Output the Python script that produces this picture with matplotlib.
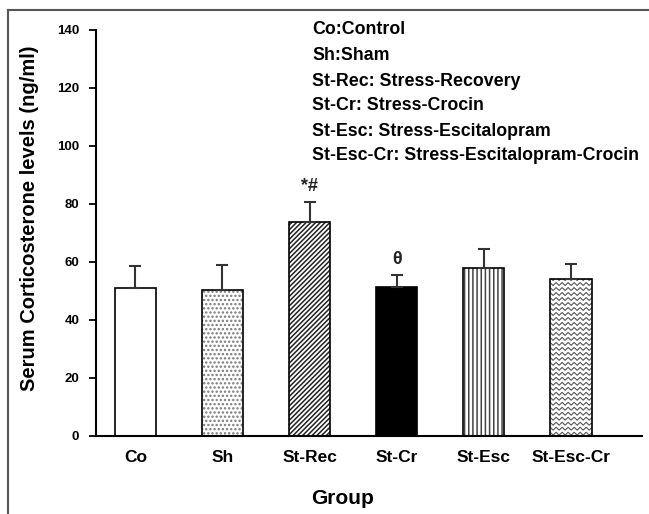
import numpy as np
import matplotlib
matplotlib.use("Agg")
import matplotlib.pyplot as plt
from matplotlib.lines import Line2D

plt.rcParams['font.family'] = ['Liberation Sans', 'DejaVu Sans']

# data
groups = ["Co", "Sh", "St-Rec", "St-Cr", "St-Esc", "St-Esc-Cr"]
means = [51.1, 50.2, 73.9, 51.5, 57.9, 54.2]
sems = [7.5, 8.8, 6.9, 3.9, 6.7, 5.2]
marks = ["", "", "*#", "\u03b8", "", ""]
legend_lines = ["Co:Control", "Sh:Sham", "St-Rec: Stress-Recovery",
                "St-Cr: Stress-Crocin", "St-Esc: Stress-Escitalopram",
                "St-Esc-Cr: Stress-Escitalopram-Crocin"]

fig = plt.figure(figsize=(6.49, 5.14), dpi=100)
ax = fig.add_axes([96/649, 78/514, 546/649, 406/514])

x = np.arange(len(groups))
w = 0.476
faces = ["white", "white", "white", "black", "white", "white"]
hatches = [None, "....", "///////", None, "||||", None]
hcolors = ["black", "#777777", "#222222", "black", "#444444", "#555555"]

plt.rcParams['hatch.linewidth'] = 1.1
# hatch layer first, then black outline on top
hb = ax.bar(x, means, w, color=faces, edgecolor=hcolors, linewidth=0, hatch=hatches, zorder=2)
ax.bar(x, means, w, color="none", edgecolor="black", linewidth=1.2, zorder=3)

# zigzag fill for the last bar
bar = hb[5]
x0, bw, h = bar.get_x(), bar.get_width(), bar.get_height()
period = 0.069
amp = 0.5
xs = np.arange(x0 - period, x0 + bw + period, period / 2)
for y0 in np.arange(0.8, h + 2, 1.72):
    ys = y0 + amp * np.where(np.arange(len(xs)) % 2 == 0, 1, -1)
    ln, = ax.plot(xs, ys, color="#555555", lw=0.8, zorder=2)
    ln.set_clip_path(bar)

ax.errorbar(x, means, yerr=[np.zeros(len(sems)), sems], fmt="none",
            ecolor="#333333", elinewidth=1.5, capsize=4, capthick=1.5, zorder=4)

for i in range(len(groups)):
    if marks[i]:
        ax.annotate(marks[i], (x[i], means[i] + sems[i]), xytext=(0, 5),
                    textcoords="offset points", ha="center", va="bottom",
                    fontsize=13, fontweight="bold", color="#222222")

ax.set_xlim(-0.451, 5.817)
ax.set_ylim(0, 140)
ax.set_yticks(range(0, 141, 20))
ax.set_xticks(x)
ax.set_xticklabels(groups, fontsize=12.5, fontweight="bold")
for lab in ax.get_yticklabels():
    lab.set_fontweight("bold")
ax.tick_params(axis="y", labelsize=9.5, length=5, width=1.3, direction="out", pad=7)
ax.tick_params(axis="x", length=0, pad=10)
ax.spines["top"].set_visible(False)
ax.spines["right"].set_visible(False)
ax.spines["left"].set_linewidth(1.5)
ax.spines["bottom"].set_linewidth(1.5)

fig.text(30/649, 1 - 218/514, "Serum Corticosterone levels (ng/ml)", rotation=90,
         ha="center", va="center", fontsize=14.5, fontweight="bold")
fig.text(343/649, 1 - 498/514, "Group", ha="center", va="center",
         fontsize=15, fontweight="bold")

leg_y = [29, 55, 82, 106, 132, 155]
for t, yy in zip(legend_lines, leg_y):
    fig.text(312/649, 1 - yy/514, t, ha="left", va="center",
             fontsize=12.8, fontweight="bold")

# outer frame
fig.add_artist(Line2D([8/649, 8/649], [0, 1 - 10/514], color="#555555", lw=1.5))
fig.add_artist(Line2D([8/649, 1], [1 - 10/514, 1 - 10/514], color="#555555", lw=1.5))

fig.savefig("out.png", dpi=100)
